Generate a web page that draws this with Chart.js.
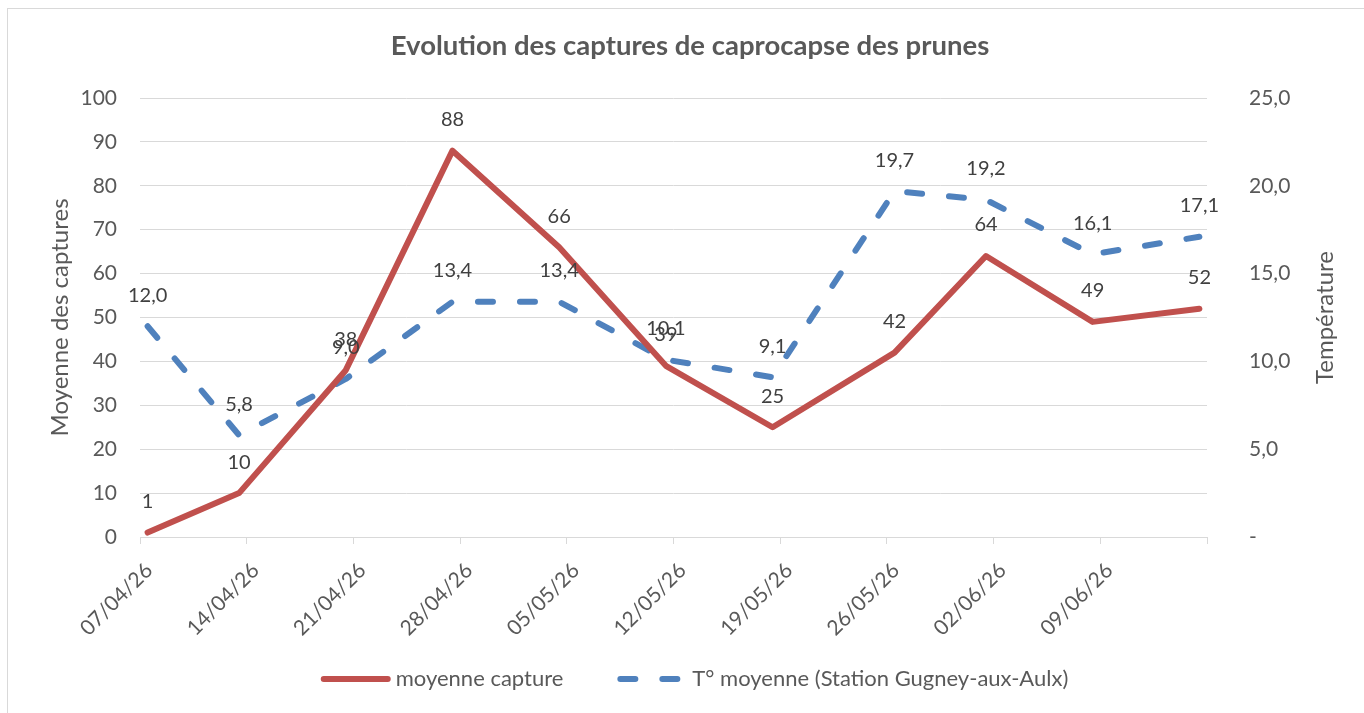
<!DOCTYPE html>
<html lang="fr">
<head>
<meta charset="utf-8">
<title>Evolution des captures de caprocapse des prunes</title>
<script src="https://cdn.jsdelivr.net/npm/chart.js@4/dist/chart.umd.min.js"></script>
<style>
    html, body { margin: 0; padding: 0; background: #fff; }
    #wrap { position: relative; width: 1364px; height: 713px; overflow: hidden; }
    #frame { position: absolute; left: 7px; top: 8px; width: 1400px; height: 800px; border: 1.5px solid #d9d9d9; }
    #chart { position: absolute; left: 0; top: 0; }
</style>
</head>
<body>
<div id="wrap">
    <div id="frame"></div>
    <canvas id="chart" width="1364" height="713"></canvas>
</div>
<script>
// Données
const startDate = '07/04/26';
const dates = ['07/04/26', '13/04/26', '20/04/26', '27/04/26', '04/05/26', '11/05/26',
               '18/05/26', '26/05/26', '01/06/26', '08/06/26', '15/06/26'];
const captures = [1, 10, 38, 88, 66, 39, 25, 42, 64, 49, 52];
const temperatures = [12.0, 5.8, 9.0, 13.4, 13.4, 10.1, 9.1, 19.7, 19.2, 16.1, 17.1];
const xTickLabels = ['07/04/26', '14/04/26', '21/04/26', '28/04/26', '05/05/26', '12/05/26',
                     '19/05/26', '26/05/26', '02/06/26', '09/06/26', ''];
const seriesNames = ['moyenne capture', 'T° moyenne (Station Gugney-aux-Aulx)'];

const TEXT = '#595959';
const GRID = '#d9d9d9';
const FONT = 'Lato';

// jour (axe date Excel : chaque point au milieu de son jour)
function dayOf(s) {
    const [d, m, y] = s.split('/').map(Number);
    return Date.UTC(2000 + y, m - 1, d) / 86400000;
}
const day0 = dayOf(startDate);
const toPoints = values => values.map((v, i) => ({ x: dayOf(dates[i]) - day0 + 0.5, y: v }));

const formatters = [
    v => String(Math.round(v)),
    v => v.toFixed(1).replace('.', ',')
];

// étiquettes de valeurs au-dessus des points
const valueLabels = {
    id: 'valueLabels',
    afterDatasetsDraw(chart) {
        const ctx = chart.ctx;
        ctx.save();
        ctx.font = '20px ' + FONT;
        ctx.fillStyle = '#404040';
        ctx.textAlign = 'center';
        ctx.textBaseline = 'middle';
        chart.data.datasets.forEach((ds, i) => {
            chart.getDatasetMeta(i).data.forEach((pt, j) => {
                ctx.fillText(formatters[i](ds.data[j].y), pt.x, pt.y - 31);
            });
        });
        ctx.restore();
    }
};

// titre de l'axe secondaire (lu de bas en haut comme dans Excel)
const rightTitle = {
    id: 'rightTitle',
    afterDraw(chart) {
        const ctx = chart.ctx;
        const s = chart.scales.y1;
        ctx.save();
        ctx.translate(s.right - 39, (chart.chartArea.top + chart.chartArea.bottom) / 2);
        ctx.rotate(-Math.PI / 2);
        ctx.font = '24px ' + FONT;
        ctx.fillStyle = TEXT;
        ctx.textAlign = 'center';
        ctx.textBaseline = 'middle';
        ctx.fillText('Température', 0, 0);
        ctx.restore();
    }
};

// légende en bas, façon Excel (trait + libellé)
const lineLegend = {
    id: 'lineLegend',
    afterDraw(chart) {
        const ctx = chart.ctx;
        const sample = 64, textGap = 8, itemGap = 57;
        const y = 679;
        ctx.save();
        ctx.font = '22px ' + FONT;
        const items = chart.data.datasets.map(ds => ({ ds, w: ctx.measureText(ds.label).width }));
        const total = items.reduce((a, it) => a + sample + textGap + it.w, 0) + itemGap * (items.length - 1);
        let x = (16 + chart.width) / 2 + 6 - total / 2;
        items.forEach(it => {
            ctx.beginPath();
            ctx.lineWidth = it.ds.borderWidth;
            ctx.lineCap = 'round';
            ctx.strokeStyle = it.ds.borderColor;
            ctx.setLineDash(it.ds.borderDash || []);
            ctx.moveTo(x, y);
            ctx.lineTo(x + sample, y);
            ctx.stroke();
            ctx.setLineDash([]);
            x += sample + textGap;
            ctx.fillStyle = TEXT;
            ctx.textAlign = 'left';
            ctx.textBaseline = 'middle';
            ctx.fillText(it.ds.label, x, y);
            x += it.w + itemGap;
        });
        ctx.restore();
    }
};

Chart.defaults.font.family = FONT;
Chart.defaults.color = TEXT;

new Chart(document.getElementById('chart'), {
    type: 'line',
    data: {
        datasets: [{
            label: seriesNames[0],
            data: toPoints(captures),
            yAxisID: 'y',
            borderColor: '#C0504D',
            backgroundColor: '#C0504D',
            borderWidth: 6,
            borderCapStyle: 'round',
            borderJoinStyle: 'round',
            pointRadius: 0,
            tension: 0
        }, {
            label: seriesNames[1],
            data: toPoints(temperatures),
            yAxisID: 'y1',
            borderColor: '#4F81BD',
            backgroundColor: '#4F81BD',
            borderWidth: 6,
            borderDash: [15, 27],
            borderCapStyle: 'round',
            borderJoinStyle: 'round',
            pointRadius: 0,
            tension: 0
        }]
    },
    options: {
        responsive: false,
        animation: false,
        devicePixelRatio: 1,
        layout: { padding: { left: 16, right: 0, top: 0, bottom: 0 } },
        plugins: {
            title: {
                display: true,
                text: 'Evolution des captures de caprocapse des prunes',
                color: TEXT,
                font: { size: 27.5, weight: 'bold' },
                padding: { top: 30, bottom: 35 }
            },
            legend: { display: false },
            tooltip: { enabled: false }
        },
        scales: {
            x: {
                type: 'linear',
                min: 0,
                max: 70,
                afterFit: s => { s.height = 176; },
                afterBuildTicks: s => { s.ticks = xTickLabels.map((t, i) => ({ value: i * 7 })); },
                grid: { drawOnChartArea: false, drawTicks: true, tickLength: 7, color: GRID },
                border: { color: GRID, width: 1 },
                ticks: {
                    minRotation: 45,
                    maxRotation: 45,
                    padding: 14,
                    labelOffset: 9,
                    autoSkip: false,
                    font: { size: 21 },
                    color: TEXT,
                    callback: (v, i) => xTickLabels[i]
                }
            },
            y: {
                position: 'left',
                min: 0,
                max: 100,
                afterFit: s => { s.width = 124; },
                grid: { color: GRID, lineWidth: 1, drawTicks: false },
                border: { display: false },
                ticks: { stepSize: 10, padding: 23, font: { size: 21 }, color: TEXT },
                title: {
                    display: true,
                    text: 'Moyenne des captures',
                    color: TEXT,
                    font: { size: 24 },
                    padding: { top: 30 }
                }
            },
            y1: {
                position: 'right',
                min: 0,
                max: 25,
                afterFit: s => { s.width = 157; },
                grid: { display: false, drawOnChartArea: false },
                border: { display: false },
                ticks: {
                    stepSize: 5,
                    padding: 34,
                    font: { size: 21 },
                    color: TEXT,
                    callback: v => v === 0 ? '-' : v.toFixed(1).replace('.', ',')
                }
            }
        }
    },
    plugins: [valueLabels, rightTitle, lineLegend]
});
</script>
</body>
</html>
